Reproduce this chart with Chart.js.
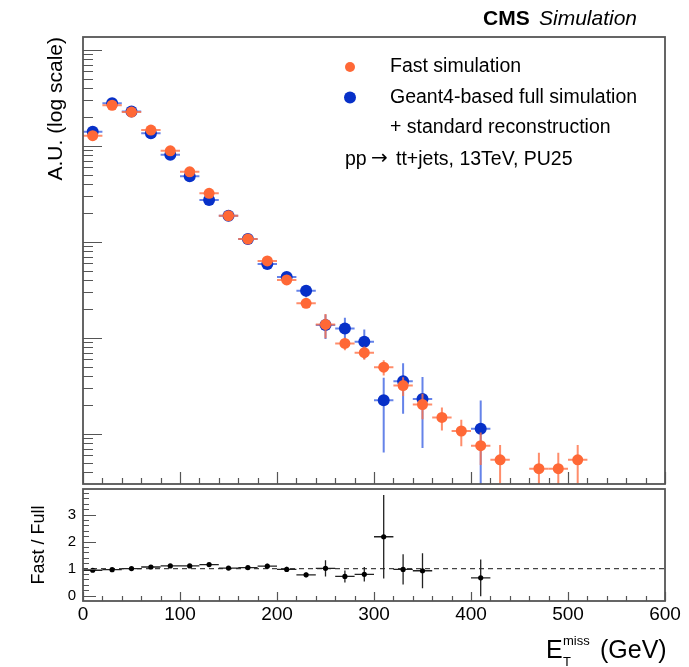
<!DOCTYPE html>
<html>
  <head>
    <meta charset="utf-8" />
    <title>MET fast vs full simulation</title>
    <script src="https://cdn.jsdelivr.net/npm/chart.js@4.4.0/dist/chart.umd.min.js"></script>
    <style>
      body { margin: 0; background: #fff; }
      #wrap { position: relative; width: 689px; height: 667px; }
      canvas { position: absolute; left: 0; }
    </style>
  </head>
  <body>
    <div id="wrap">
      <canvas id="topChart" width="689" height="487" style="top: 0"></canvas>
      <canvas id="ratioChart" width="689" height="180" style="top: 487px"></canvas>
    </div>
    <script>
      // bins of 20 GeV
      const binCenters = [10, 30, 50, 70, 90, 110, 130, 150, 170, 190, 210, 230, 250,
        270, 290, 310, 330, 350, 370, 390, 410, 430, 450, 470, 490, 510];
      const binHalfWidth = 10;
      const fastValues = [1277, 2649, 2250, 1462, 888, 536, 320, 187, 107, 63.2, 40.1, 22.9, 13.8,
        8.73, 7.0, 4.94, 3.18, 2.02, 1.48, 1.07, 0.752, 0.536, null, 0.433, 0.433, 0.536];
      const fastErrors = [20, 30, 28, 22, 16, 12, 9, 7, 5, 3.5, 3, 2.5, 3.9,
        1.3, 1.1, 0.9, 0.7, 0.6, 0.4, 0.33, 0.28, 0.23, null, 0.2, 0.2, 0.23];
      const fullValues = [1404, 2775, 2279, 1352, 807, 483, 273, 187, 107, 58.6, 43, 31, 13.6,
        12.5, 9.1, 2.24, 3.52, 2.31, null, null, 1.13, null, null, null, null, null];
      const fullErrors = [25, 35, 30, 25, 18, 14, 10, 8, 6, 5, 4.5, 4.5, 3.9,
        3.7, 3.1, 1.6, 1.9, 1.6, null, null, 1.1, null, null, null, null, null];
      const ratioValues = [0.94, 0.96, 1.0, 1.06, 1.1, 1.1, 1.15, 1.02, 1.04, 1.09, 0.97, 0.77, 1.01,
        0.71, 0.79, 2.18, 0.97, 0.92, null, null, 0.66, null, null, null, null, null];
      const ratioErrors = [0.04, 0.04, 0.04, 0.04, 0.05, 0.05, 0.05, 0.05, 0.06, 0.09, 0.1, 0.09, 0.3,
        0.22, 0.27, 1.55, 0.56, 0.65, null, null, 0.68, null, null, null, null, null];
      const xTickLabels = [0, 100, 200, 300, 400, 500, 600];
      const ratioTickLabels = [0, 1, 2, 3];

      const ORANGE = "#ff6836";
      const BLUE = "#0730c8";
      const FONT = "'Liberation Sans', Arial, sans-serif";
      Chart.defaults.font.family = FONT;
      Chart.defaults.color = "#000";

      function toPoints(vals, errs) {
        const pts = [];
        binCenters.forEach((x, i) => {
          if (vals[i] != null) pts.push({ x: x, y: vals[i], err: errs[i] });
        });
        return pts;
      }

      function linTicks(from, to, step, majorEvery, minorLen, majorLen) {
        const out = [];
        for (let k = Math.round(from / step); k <= Math.round(to / step); k++) {
          const major = k % majorEvery === 0;
          out.push({ v: k * step, len: major ? majorLen : minorLen });
        }
        return out;
      }

      function logTicks(min, max, minorLen, majorLen) {
        const out = [];
        for (let e = -1; e <= 5; e++) {
          for (let m = 1; m <= 9; m++) {
            const v = m * Math.pow(10, e);
            if (v >= min && v <= max) out.push({ v: v, len: m === 1 ? majorLen : minorLen });
          }
        }
        return out;
      }

      // keep label overhang from moving the plot area
      function noPad(s) {
        s.paddingTop = 0;
        s.paddingBottom = 0;
        s.paddingLeft = 0;
        s.paddingRight = 0;
      }

      // error bars, drawn just before each dataset's markers
      const errorBars = {
        id: "errorBars",
        beforeDatasetDraw(chart, args) {
          const ds = chart.data.datasets[args.index];
          if (!ds.errorColor) return;
          const xs = chart.scales.x, ys = chart.scales.y, a = chart.chartArea;
          const ctx = chart.ctx;
          ctx.save();
          ctx.beginPath();
          ctx.rect(a.left, a.top, a.right - a.left, a.bottom - a.top);
          ctx.clip();
          ctx.strokeStyle = ds.errorColor;
          ctx.lineWidth = ds.errorWidth || 2;
          ds.data.forEach((p) => {
            const px = xs.getPixelForValue(p.x);
            const py = ys.getPixelForValue(p.y);
            ctx.beginPath();
            ctx.moveTo(xs.getPixelForValue(p.x - binHalfWidth), py);
            ctx.lineTo(xs.getPixelForValue(p.x + binHalfWidth), py);
            if (p.err) {
              const lo = p.y - p.err;
              const yLo = ys.type === "logarithmic" && lo <= 0 ? a.bottom + 5 : ys.getPixelForValue(lo);
              ctx.moveTo(px, ys.getPixelForValue(p.y + p.err));
              ctx.lineTo(px, yLo);
            }
            ctx.stroke();
          });
          ctx.restore();
        },
      };

      // ROOT-style frame with inward ticks
      const frame = {
        id: "frame",
        afterDraw(chart, args, opts) {
          const { ctx, chartArea: a } = chart;
          const xs = chart.scales.x, ys = chart.scales.y;
          ctx.save();
          ctx.strokeStyle = "#555";
          ctx.lineWidth = 1.2;
          ctx.beginPath();
          opts.xTicks.forEach((t) => {
            const px = Math.round(xs.getPixelForValue(t.v)) + 0.5;
            ctx.moveTo(px, a.bottom);
            ctx.lineTo(px, a.bottom - t.len);
          });
          opts.yTicks.forEach((t) => {
            const py = Math.round(ys.getPixelForValue(t.v)) + 0.5;
            if (py < a.top || py > a.bottom) return;
            ctx.moveTo(a.left, py);
            ctx.lineTo(a.left + t.len, py);
          });
          ctx.stroke();
          ctx.lineWidth = 1.8;
          ctx.strokeRect(a.left, a.top, a.right - a.left, a.bottom - a.top);
          ctx.restore();
        },
      };

      const topText = {
        id: "topText",
        afterDraw(chart) {
          const ctx = chart.ctx;
          const ds = chart.data.datasets;
          ctx.save();
          ctx.fillStyle = "#000";
          ctx.textAlign = "left";
          ctx.textBaseline = "alphabetic";
          ctx.font = "bold 21px " + FONT;
          ctx.fillText("CMS", 483, 25);
          ctx.font = "italic 21px " + FONT;
          ctx.fillText("Simulation", 539, 25);

          ctx.font = "19.5px " + FONT;
          ctx.fillStyle = ORANGE;
          ctx.beginPath();
          ctx.arc(350, 67, 5, 0, Math.PI * 2);
          ctx.fill();
          ctx.fillStyle = BLUE;
          ctx.beginPath();
          ctx.arc(350, 97.5, 6, 0, Math.PI * 2);
          ctx.fill();
          ctx.fillStyle = "#000";
          ctx.fillText(ds[0].label, 390, 72);
          ctx.fillText(ds[1].label, 390, 103);
          ctx.fillText("+ standard reconstruction", 390, 133);
          ctx.fillText("pp", 345, 165);
          ctx.font = "20px 'DejaVu Sans', sans-serif";
          ctx.fillText("\u2192", 371, 164);
          ctx.font = "19.5px " + FONT;
          ctx.fillText("tt+jets, 13TeV, PU25", 396, 165);
          ctx.restore();
        },
      };

      const ratioText = {
        id: "ratioText",
        afterDraw(chart) {
          const ctx = chart.ctx;
          ctx.save();
          ctx.fillStyle = "#000";
          ctx.textAlign = "left";
          ctx.textBaseline = "alphabetic";
          ctx.font = "25px " + FONT;
          ctx.fillText("E", 546, 171);
          ctx.fillText("(GeV)", 600, 171);
          ctx.font = "13px " + FONT;
          ctx.fillText("miss", 563, 158);
          ctx.fillText("T", 563, 179);
          ctx.restore();
        },
      };

      const yMin = 0.3357, yMax = 13614;

      new Chart(document.getElementById("topChart"), {
        type: "scatter",
        data: {
          datasets: [
            {
              label: "Fast simulation",
              data: toPoints(fastValues, fastErrors),
              backgroundColor: ORANGE,
              pointRadius: 5.5,
              borderWidth: 0,
              errorColor: "rgba(255, 112, 70, 0.8)",
              errorWidth: 2,
            },
            {
              label: "Geant4-based full simulation",
              data: toPoints(fullValues, fullErrors),
              backgroundColor: BLUE,
              pointRadius: 6,
              borderWidth: 0,
              errorColor: "rgba(50, 90, 225, 0.75)",
              errorWidth: 2,
            },
          ],
        },
        options: {
          responsive: false,
          animation: false,
          events: [],
          layout: { autoPadding: false, padding: { left: 0, right: 24, top: 37, bottom: 3 } },
          plugins: {
            legend: { display: false },
            tooltip: { enabled: false },
            frame: {
              xTicks: linTicks(0, 600, 20, 5, 6, 12),
              yTicks: logTicks(yMin, yMax, 10, 19),
            },
          },
          scales: {
            x: { type: "linear", min: 0, max: 600, display: false, afterFit: noPad },
            y: {
              type: "logarithmic",
              min: yMin,
              max: yMax,
              grid: { display: false, drawTicks: false },
              border: { display: false },
              ticks: { display: false },
              title: {
                display: true,
                text: "A.U. (log scale)",
                align: "end",
                font: { size: 21 },
                padding: { top: 44, bottom: 0 },
              },
              afterFit: (s) => { noPad(s); s.width = 83; },
            },
          },
        },
        plugins: [errorBars, frame, topText],
      });

      new Chart(document.getElementById("ratioChart"), {
        type: "scatter",
        data: {
          datasets: [
            {
              label: "Fast / Full",
              data: toPoints(ratioValues, ratioErrors),
              backgroundColor: "#000",
              pointRadius: 2.6,
              borderWidth: 0,
              errorColor: "#222",
              errorWidth: 1.3,
            },
            {
              label: "unity",
              data: [{ x: 0, y: 1 }, { x: 600, y: 1 }],
              showLine: true,
              borderColor: "#444",
              borderWidth: 1.2,
              borderDash: [5, 4],
              pointRadius: 0,
            },
          ],
        },
        options: {
          responsive: false,
          animation: false,
          events: [],
          layout: { autoPadding: false, padding: { left: 0, right: 24, top: 2, bottom: 0 } },
          plugins: {
            legend: { display: false },
            tooltip: { enabled: false },
            frame: {
              xTicks: linTicks(0, 600, 20, 5, 5, 9),
              yTicks: linTicks(-0.2, 3.8, 0.2, 5, 6, 13),
            },
          },
          scales: {
            x: {
              type: "linear",
              min: 0,
              max: 600,
              grid: { display: false, drawTicks: false },
              border: { display: false },
              ticks: { font: { size: 19 }, padding: 2, color: "#000" },
              afterBuildTicks: (s) => { s.ticks = xTickLabels.map((v) => ({ value: v })); },
              afterFit: (s) => { noPad(s); s.height = 66; },
            },
            y: {
              type: "linear",
              min: -0.2,
              max: 3.95,
              grid: { display: false, drawTicks: false },
              border: { display: false },
              ticks: { font: { size: 15 }, padding: 7, color: "#000" },
              afterBuildTicks: (s) => { s.ticks = ratioTickLabels.map((v) => ({ value: v })); },
              title: {
                display: true,
                text: "Fast / Full",
                font: { size: 18 },
                padding: { top: 28, bottom: 0 },
              },
              afterFit: (s) => { noPad(s); s.width = 83; },
            },
          },
        },
        plugins: [errorBars, frame, ratioText],
      });
    </script>
  </body>
</html>
